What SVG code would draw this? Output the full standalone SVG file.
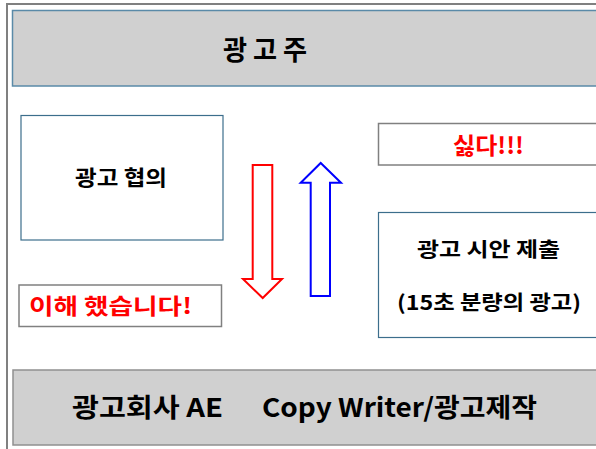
<svg xmlns="http://www.w3.org/2000/svg" width="596" height="449" viewBox="0 0 596 449">
<style>
text{font-family:"Noto Sans CJK KR","Noto Sans",sans-serif;font-weight:bold;}
.blk{fill:#000;}
.red{fill:#ff0000;}
.gray{fill:#d0d0d0;stroke:#5a8aa8;stroke-width:1.5;}
.box{fill:#fff;stroke:#3c6e8c;stroke-width:1.2;}
.gbox{fill:#fff;stroke:#808080;stroke-width:1.5;}
</style>
<rect x="0" y="0" width="596" height="449" fill="#fff"/>
<rect id="frame" x="7" y="4" width="600" height="460" fill="none" stroke="#808080" stroke-width="2"/>
<g id="advertiser">
<rect class="gray" x="12.5" y="10.5" width="600" height="75.5"/>
<text class="blk" x="223" y="60" font-size="27" textLength="84" lengthAdjust="spacingAndGlyphs">광 고 주</text>
</g>
<g id="consult">
<rect class="box" x="21" y="115.5" width="202" height="124.5"/>
<text class="blk" x="75" y="185" font-size="21" textLength="92" lengthAdjust="spacingAndGlyphs">광고 협의</text>
</g>
<g id="understood">
<rect class="gbox" x="19" y="285" width="202.5" height="41.5"/>
<text class="red" x="29" y="314" font-size="22" textLength="163" lengthAdjust="spacingAndGlyphs">이해 했습니다!</text>
</g>
<g id="dislike">
<rect class="gbox" x="378.5" y="123.5" width="230" height="41.5"/>
<text class="red" x="453" y="154" font-size="23" textLength="71" lengthAdjust="spacingAndGlyphs">싫다!!!</text>
</g>
<g id="proposal">
<rect class="box" x="378.5" y="212.5" width="230" height="125"/>
<text class="blk" x="417" y="257" font-size="20" textLength="143" lengthAdjust="spacingAndGlyphs">광고 시안 제출</text>
<text class="blk" x="397" y="310" font-size="20" textLength="184" lengthAdjust="spacingAndGlyphs">(15초 분량의 광고)</text>
</g>
<g id="agency">
<rect class="gray" x="13" y="370" width="600" height="75" style="stroke:#909090"/>
<text class="blk" x="72" y="417" font-size="26" textLength="151" lengthAdjust="spacingAndGlyphs">광고회사 AE</text>
<text class="blk" x="262" y="417" font-size="26" textLength="275" lengthAdjust="spacingAndGlyphs">Copy Writer/광고제작</text>
</g>
<g id="connectors" fill="#fff" stroke-width="2">
<polygon stroke="#ff0000" points="252.7,165 272.3,165 272.3,279 282,279 262.7,298 243,279 252.7,279"/>
<polygon stroke="#0000ff" points="310.7,296 330,296 330,182.7 341,182.7 320.7,163 300.7,182.7 310.7,182.7"/>
</g>
</svg>
